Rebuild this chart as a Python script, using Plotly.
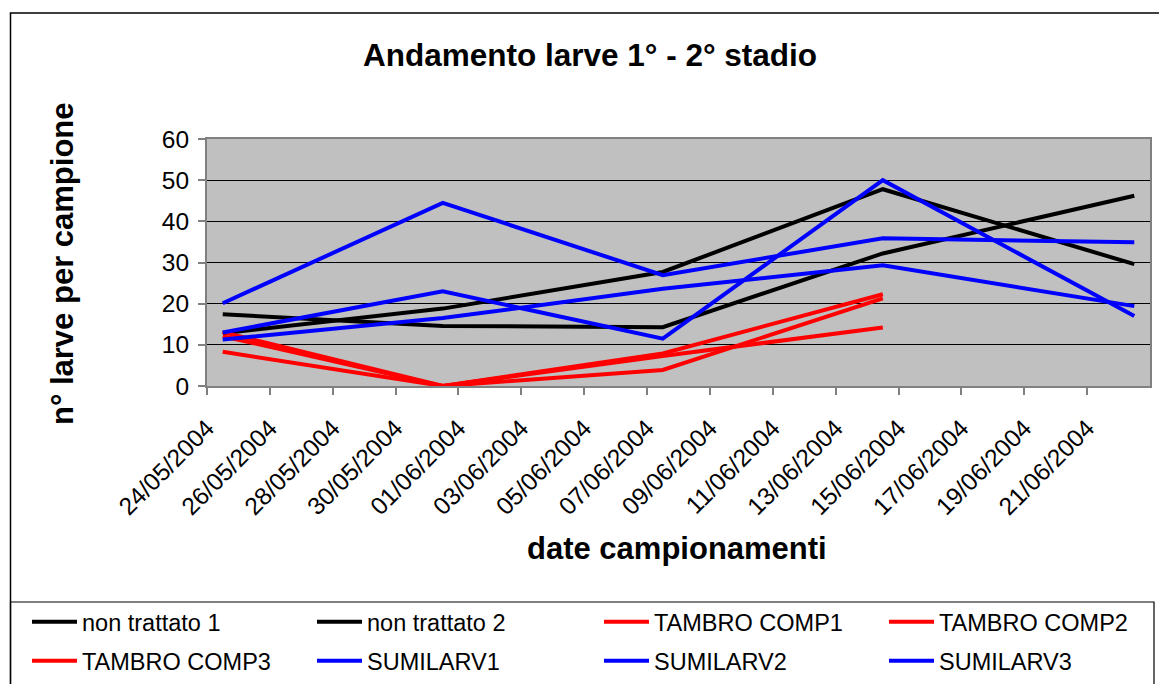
import pandas as pd
import plotly.graph_objects as go

# ---- data ----
sample_dates = ["2004-05-24", "2004-05-31", "2004-06-07", "2004-06-14", "2004-06-22"]
non_trattato_1 = [17.4, 14.6, 14.3, 32.2, 46.2]
non_trattato_2 = [12.8, 18.8, 27.7, 47.8, 29.6]
tambro_comp1 = [13.1, 0.0, 7.9, 22.3]
tambro_comp2 = [12.1, 0.0, 7.3, 14.2]
tambro_comp3 = [8.3, 0.0, 3.9, 21.3]
sumilarv1 = [20.1, 44.5, 26.9, 35.9, 34.9]
sumilarv2 = [13.0, 23.0, 11.5, 50.0, 17.0]
sumilarv3 = [11.3, 16.5, 23.6, 29.3, 19.4]
tick_dates = ["2004-05-24", "2004-05-26", "2004-05-28", "2004-05-30", "2004-06-01",
              "2004-06-03", "2004-06-05", "2004-06-07", "2004-06-09", "2004-06-11",
              "2004-06-13", "2004-06-15", "2004-06-17", "2004-06-19", "2004-06-21"]
x_range = ["2004-05-24", "2004-06-23"]
y_range = [0, 60]

title_text = "Andamento larve 1° - 2° stadio"
y_title = "n° larve per campione"
x_title = "date campionamenti"

# ---- geometry (pixels) ----
W, H = 1159, 684
L, R, T, B = 207, 1150, 139, 386
pw, ph = R - L, B - T


def xp(px):
    return (px - L) / pw


def yp(py):
    return (B - py) / ph


def cx(px):
    return px / W


def cy(py):
    return 1 - py / H


# points sit in the middle of each day (Excel date axis)
x_dates = pd.to_datetime(sample_dates) + pd.Timedelta(hours=12)

series = [
    ("non trattato 1", non_trattato_1, "#000000"),
    ("non trattato 2", non_trattato_2, "#000000"),
    ("TAMBRO COMP1", tambro_comp1, "#FF0000"),
    ("TAMBRO COMP2", tambro_comp2, "#FF0000"),
    ("TAMBRO COMP3", tambro_comp3, "#FF0000"),
    ("SUMILARV1", sumilarv1, "#0000FF"),
    ("SUMILARV2", sumilarv2, "#0000FF"),
    ("SUMILARV3", sumilarv3, "#0000FF"),
]
# legend grid: 4 columns x 2 rows (text x positions, row y centres in px)
col_text_x = [85, 370, 657, 942]
row_y = [622, 661]

FONT = "Liberation Sans, Arial, sans-serif"

fig = go.Figure()
legends = {}
for i, (name, vals, col) in enumerate(series):
    lg = "legend" if i == 0 else f"legend{i + 1}"
    fig.add_trace(go.Scatter(
        x=x_dates[:len(vals)], y=vals, mode="lines", name=name,
        line=dict(color=col, width=4), legend=lg,
    ))
    r, c = divmod(i, 4)
    legends[lg] = dict(
        xref="container", yref="container",
        x=cx(col_text_x[c] - 58), y=cy(row_y[r]),
        xanchor="left", yanchor="middle", orientation="h",
        font=dict(family=FONT, size=23.5, color="#000000"),
        bgcolor="rgba(0,0,0,0)", itemwidth=45,
    )


def frame_path():
    # left and top edges of the outer chart frame
    return (f"M {xp(10.5)} {yp(900)} L {xp(10.5)} {yp(13)} L {xp(1400)} {yp(13)}")


fig.update_layout(
    width=W, height=H,
    margin=dict(l=L, r=W - R, t=T, b=H - B, pad=0, autoexpand=False),
    paper_bgcolor="#FFFFFF",
    plot_bgcolor="#C0C0C0",
    font=dict(family=FONT, color="#000000"),
    showlegend=True,
    **legends,
    xaxis=dict(
        type="date", range=x_range, tickvals=tick_dates, tickformat="%d/%m/%Y",
        tickangle=-45, tickfont=dict(family=FONT, size=24.5, color="#000000"),
        ticks="outside", ticklen=7, tickcolor="#808080", tickwidth=1.5,
        showgrid=False, showline=True, linecolor="#808080", linewidth=2,
        mirror=True, zeroline=False, ticklabelstandoff=9,
    ),
    yaxis=dict(
        range=y_range, dtick=10, tickfont=dict(family=FONT, size=24.5, color="#000000"),
        ticks="outside", ticklen=7, tickcolor="#808080", tickwidth=1.5,
        showgrid=True, gridcolor="#000000", gridwidth=1,
        showline=True, linecolor="#808080", linewidth=2, mirror=True,
        zeroline=False, ticklabelstandoff=4,
    ),
    shapes=[
        dict(type="path", xref="paper", yref="paper", path=frame_path(),
             line=dict(color="#000000", width=1.5), layer="below"),
        # legend box
        dict(type="rect", xref="paper", yref="paper",
             x0=xp(10.5), x1=xp(1154), y0=yp(900), y1=yp(602),
             line=dict(color="#000000", width=1.2), layer="below"),
    ],
    annotations=[
        dict(text="<b>" + title_text + "</b>", xref="paper", yref="paper",
             x=xp(590), y=yp(55), showarrow=False, xanchor="center", yanchor="middle",
             font=dict(family=FONT, size=31.5, color="#000000")),
        dict(text="<b>" + y_title + "</b>", xref="paper", yref="paper",
             x=xp(62), y=yp(264), showarrow=False, xanchor="center", yanchor="middle",
             textangle=-90, font=dict(family=FONT, size=31, color="#000000")),
        dict(text="<b>" + x_title + "</b>", xref="paper", yref="paper",
             x=xp(677), y=yp(548), showarrow=False, xanchor="center", yanchor="middle",
             font=dict(family=FONT, size=31, color="#000000")),
    ],
)

fig.write_html("out.html",
               config={"displayModeBar": False},
               post_script="document.body.style.margin='0px';")
